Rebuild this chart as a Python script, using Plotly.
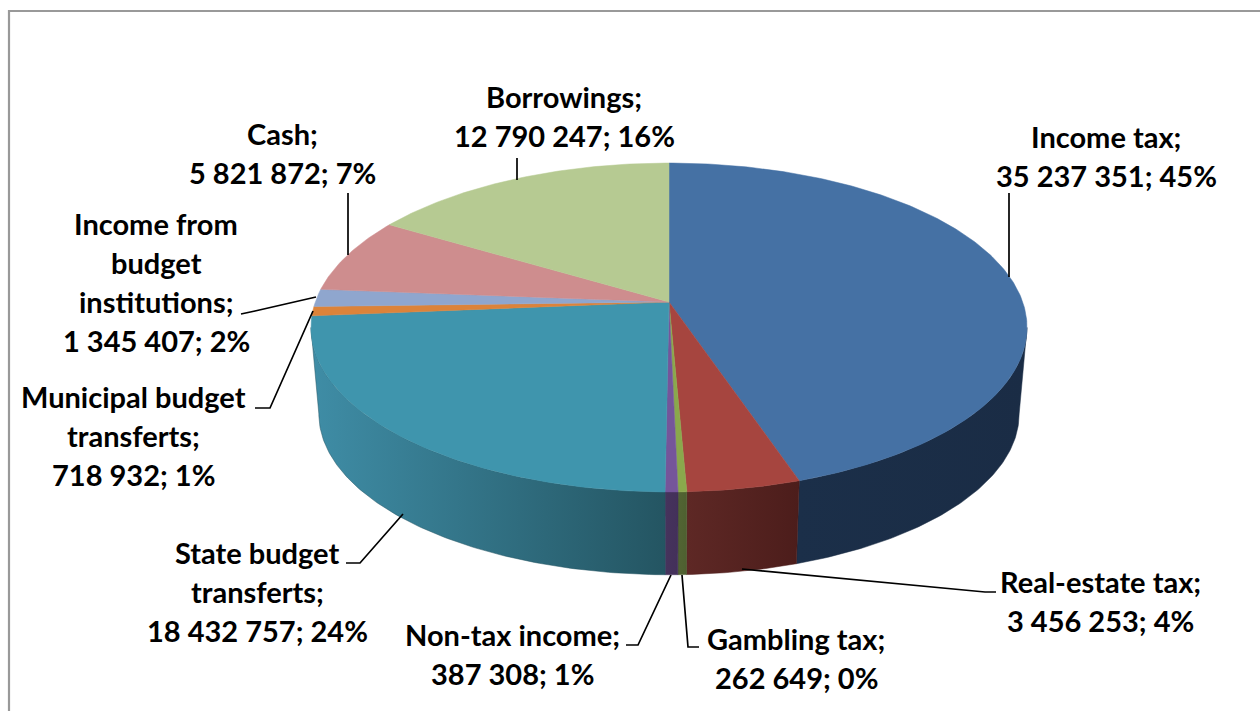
import numpy as np
import plotly.graph_objects as go

# ---- data (clockwise from 12 o'clock) ----
name_lines = [
    ["Income tax;"],
    ["Real-estate tax;"],
    ["Gambling tax;"],
    ["Non-tax income;"],
    ["State budget", "transferts;"],
    ["Municipal budget", "transferts;"],
    ["Income from", "budget", "institutions;"],
    ["Cash;"],
    ["Borrowings;"],
]
values = [35237351, 3456253, 262649, 387308, 18432757, 718932, 1345407, 5821872, 12790247]
percents = [45, 4, 0, 1, 24, 1, 2, 7, 16]

top_colors = ["#4571A4", "#A6453F", "#8AA84C", "#75559A", "#3F95AD", "#DC833A", "#8FA6CE", "#CE8D8E", "#B6CA92"]
side_left = ["#1B2F49", "#5E2825", "#526433", "#46335C", "#3F8DA6", "#8A5020", "#55647E", "#7D5556", "#6E7A58"]
side_right = ["#1A2C45", "#4C1D1B", "#4E6030", "#43305A", "#245562", "#8A5020", "#55647E", "#7D5556", "#6E7A58"]

# label layout: centre x, first-line y
label_pos = [(1106, 136.5), (1100, 581.5), (796, 638.5), (512, 634.5), (257, 552.5),
             (133, 396.5), (156, 223.5), (282, 133.5), (564, 96.5)]
LINE_H = 39

leaders = [
    [(1009, 193), (1009, 277)],
    [(742, 569), (985, 592), (996, 592)],
    [(682, 575), (688, 647), (699, 647)],
    [(671, 575), (638, 645), (626, 645)],
    [(403, 514), (360, 563), (346, 563)],
    [(313, 311), (270, 408), (255, 408)],
    [(316, 297), (255, 311), (241, 314)],
    [(348, 193), (348, 255)],
    [(517, 158), (517, 180)],
]

# ---- projection of the tilted disc ----
CX, CY = 669.0, 302.0
K, A, B = 0.155, 160.5, 353.7
SCALE_LOW, DY_LOW = 0.978, 87.0


def rim(theta, scale=1.0, dy=0.0):
    w = 1 + K * np.cos(theta)
    return CX + scale * B * np.sin(theta) / w, CY + dy - scale * A * np.cos(theta) / w


total = sum(values)
edges = np.concatenate([[0], np.cumsum(values)]) / total * 2 * np.pi

# wall is visible between the two silhouette points of the rim
T_RIGHT = np.arccos(-K)
T_LEFT = 2 * np.pi - T_RIGHT

fig = go.Figure()

# side walls
for i in range(len(values)):
    lo, hi = max(edges[i], T_RIGHT), min(edges[i + 1], T_LEFT)
    if hi <= lo:
        continue
    t = np.linspace(lo, hi, max(int((hi - lo) * 80), 4))
    xt, yt = rim(t)
    xb, yb = rim(t, SCALE_LOW, DY_LOW)
    fig.add_trace(go.Scatter(
        x=np.concatenate([xt, xb[::-1], xt[:1]]),
        y=np.concatenate([yt, yb[::-1], yt[:1]]),
        mode="lines", fill="toself", line=dict(width=0.5, color=side_right[i]),
        fillgradient=dict(type="horizontal", colorscale=[[0, side_left[i]], [1, side_right[i]]]),
        hoverinfo="skip", showlegend=False))

# top faces
for i in range(len(values)):
    t = np.linspace(edges[i], edges[i + 1], max(int((edges[i + 1] - edges[i]) * 80), 4))
    xt, yt = rim(t)
    fig.add_trace(go.Scatter(
        x=np.concatenate([[CX], xt, [CX]]),
        y=np.concatenate([[CY], yt, [CY]]),
        mode="lines", fill="toself", fillcolor=top_colors[i],
        line=dict(width=0.5, color=top_colors[i]),
        hoverinfo="skip", showlegend=False))

shapes = [dict(type="path", path="M 1260 11 L 9 11 L 9 711", line=dict(color="#999999", width=2.2))]
for pts in leaders:
    p = "M " + " L ".join(f"{x} {y}" for x, y in pts)
    shapes.append(dict(type="path", path=p, line=dict(color="#000000", width=1.7)))

annotations = []
for names, v, pc, (lx, ly) in zip(name_lines, values, percents, label_pos):
    lines = names + [f"{v:,}".replace(",", " ") + f"; {pc}%"]
    for j, s in enumerate(lines):
        annotations.append(dict(
            x=lx, y=ly + j * LINE_H, text=s, showarrow=False, xanchor="center", yanchor="middle",
            font=dict(family="Lato, Carlito, sans-serif", size=29, color="#000000", weight="bold")))

fig.update_layout(
    width=1260, height=711, margin=dict(l=0, r=0, t=0, b=0),
    paper_bgcolor="#FFFFFF", plot_bgcolor="#FFFFFF", showlegend=False,
    xaxis=dict(range=[0, 1260], visible=False, fixedrange=True),
    yaxis=dict(range=[711, 0], visible=False, fixedrange=True),
    shapes=shapes, annotations=annotations,
)
fig.write_html("out.html", config=dict(displayModeBar=False),
               post_script="document.body.style.margin='0';document.body.style.overflow='hidden';")
